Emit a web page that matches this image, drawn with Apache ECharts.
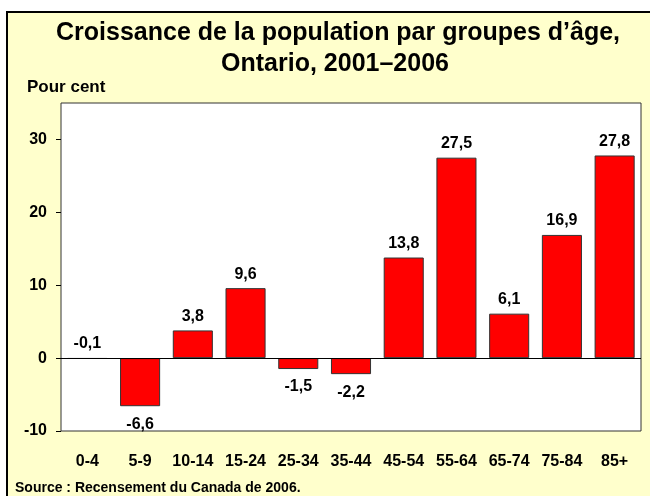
<!DOCTYPE html>
<html><head><meta charset="utf-8">
<script src="https://cdn.jsdelivr.net/npm/echarts@6/dist/echarts.min.js"></script>
<style>html,body{margin:0;padding:0;background:#fff}#c{width:650px;height:496px}</style>
</head><body><div id="c"></div>
<script>
const categories = ['0-4','5-9','10-14','15-24','25-34','35-44','45-54','55-64','65-74','75-84','85+'];
const growth = [-0.1,-6.6,3.8,9.6,-1.5,-2.2,13.8,27.5,6.1,16.9,27.8];
const yTicks = [-10,0,10,20,30];
const titleLines = ['Croissance de la population par groupes d\u2019âge,','Ontario, 2001\u20132006'];
const yAxisName = 'Pour cent';
const sourceText = 'Source : Recensement du Canada de 2006.';

const FONT = '"Liberation Sans", Arial, sans-serif';
const chart = echarts.init(document.getElementById('c'), null, {renderer:'canvas'});
const fmt = v => v.toFixed(1).replace('.', ',');

chart.setOption({
  animation: false,
  backgroundColor: '#ffffff',
  graphic: [
    {type:'rect', z:-10, shape:{x:7,y:12,width:700,height:520},
     style:{fill:'#FFFFCC', stroke:'#000', lineWidth:2}},
    {type:'text', x:338, y:33, z:10,
     style:{text:titleLines[0], font:'bold 25px '+FONT, fill:'#000', align:'center', verticalAlign:'middle'}},
    {type:'text', x:335, y:64, z:10,
     style:{text:titleLines[1], font:'bold 25px '+FONT, fill:'#000', align:'center', verticalAlign:'middle'}},
    {type:'text', x:27, y:87, z:10,
     style:{text:yAxisName, font:'bold 17px '+FONT, fill:'#000', align:'left', verticalAlign:'middle'}},
    {type:'text', x:15, y:488, z:10,
     style:{text:sourceText, font:'bold 14px '+FONT, fill:'#000', align:'left', verticalAlign:'middle'}}
  ],
  grid: {left:61, top:103, right:9, bottom:65, show:true, backgroundColor:'#fff', borderColor:'#333', borderWidth:1},
  xAxis: {
    type:'category', data:categories,
    axisLine:{show:false, onZero:false}, axisTick:{show:false},
    axisLabel:{color:'#000', fontFamily:FONT, fontWeight:'bold', fontSize:16, margin:23, interval:0}
  },
  yAxis: {
    type:'value', min:-10, max:35, interval:10,
    splitLine:{show:false},
    axisLine:{show:false},
    axisTick:{show:true, length:5, lineStyle:{color:'#000'}, customValues:yTicks},
    axisLabel:{color:'#000', fontFamily:FONT, fontWeight:'bold', fontSize:16, margin:14, customValues:yTicks}
  },
  series: [{
    type:'bar', barCategoryGap:'24%',
    data: growth.map(v => ({value:v, label:{position: v > -1 ? 'top' : 'bottom', distance: v > -1 ? 6 : 10}})),
    itemStyle:{color:'#FF0000', borderColor:'#333', borderWidth:1},
    label:{show:true, color:'#000', fontFamily:FONT, fontWeight:'bold', fontSize:16, formatter:p => fmt(p.value)},
    markLine:{silent:true, symbol:'none', label:{show:false}, lineStyle:{color:'#000', width:1, type:'solid'},
      data:[{yAxis:0}]}
  }]
});
</script></body></html>
